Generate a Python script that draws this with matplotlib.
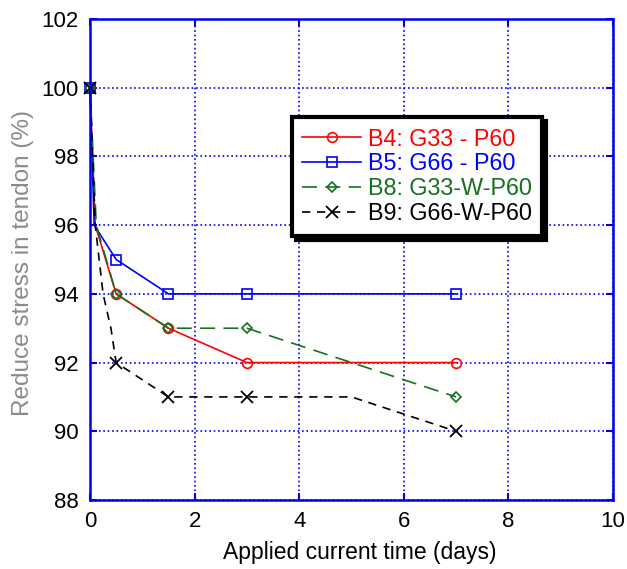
import matplotlib
matplotlib.use("Agg")
import matplotlib.pyplot as plt

plt.rcParams["font.family"] = ["Liberation Sans", "DejaVu Sans"]

# ── DATA ──────────────────────────────────────────────────────────────────────
b4_t = [0, 0.1, 0.5, 1.5, 3, 7]
b4_s = [100, 96, 94, 93, 92, 92]
b4_mark = [0, 2, 3, 4, 5]

b5_t = [0, 0.08, 0.5, 1.5, 3, 7]
b5_s = [100, 96, 95, 94, 94, 94]
b5_mark = [0, 2, 3, 4, 5]

b8_t = [0, 0.12, 0.5, 1.5, 3, 7]
b8_s = [100, 96, 94, 93, 93, 91]
b8_mark = [0, 2, 3, 4, 5]

b9_t = [0, 0.1, 0.25, 0.4, 0.5, 1.5, 3, 5, 7]
b9_s = [100, 96, 94, 93, 92, 91, 91, 91, 90]
b9_mark = [0, 4, 5, 6, 8]

labels = ["B4: G33 - P60", "B5: G66 - P60", "B8: G33-W-P60", "B9: G66-W-P60"]
x_ticks = [0, 2, 4, 6, 8, 10]
y_ticks = [88, 90, 92, 94, 96, 98, 100, 102]

GREEN = "#17701f"
BLUE = "#0000ee"

fig = plt.figure(figsize=(6.27, 5.69), dpi=100)
ax = fig.add_axes([90 / 627, 1 - 500 / 569, 523 / 627, 481 / 569])

ax.plot(b4_t, b4_s, "-", color="red", lw=1.2, marker="o", ms=7, mfc="none",
        mew=1.2, markevery=b4_mark, label=labels[0], clip_on=False)
ax.plot(b5_t, b5_s, "-", color="blue", lw=1.2, marker="s", ms=7, mfc="none",
        mew=1.2, markevery=b5_mark, label=labels[1], clip_on=False)
ax.plot(b8_t, b8_s, color=GREEN, lw=1.2, ls=(0, (9, 5)), marker="D", ms=5,
        mfc="none", mew=1.2, markevery=b8_mark, label=labels[2], clip_on=False)
ax.plot(b9_t, b9_s, color="black", lw=1.2, ls=(0, (5, 4)), marker="x", ms=8,
        mew=1.3, markevery=b9_mark, label=labels[3], clip_on=False)

ax.set_xlim(0, 10)
ax.set_ylim(88, 102)
ax.set_xticks(x_ticks)
ax.set_yticks(y_ticks)
ax.grid(True, color=BLUE, ls=":", lw=1.2)
ax.tick_params(direction="in", length=5, color=BLUE, width=1.5,
               top=True, right=True, labelsize=16, pad=8)
for sp in ax.spines.values():
    sp.set_color(BLUE)
    sp.set_linewidth(1.8)

ax.set_xlabel("Applied current time (days)", fontsize=16.5)
ax.xaxis.set_label_coords(0.516, -0.085)
ax.set_ylabel("Reduce stress in tendon (%)", fontsize=17.5, color="#8a8a8a")
ax.yaxis.set_label_coords(-0.107, 0.493)

leg = ax.legend(loc="upper left", bbox_to_anchor=(0.386, 0.796),
                borderaxespad=0, fontsize=16.8, fancybox=False,
                edgecolor="black", framealpha=1, handlelength=2.5,
                handletextpad=0.3, labelspacing=0.08, borderpad=0.45,
                shadow={"color": "black", "alpha": 1, "ox": 3, "oy": -3})
leg.get_frame().set_linewidth(3)
for text, line in zip(leg.get_texts(), leg.get_lines()):
    text.set_color(line.get_color())

fig.savefig("out.png", dpi=100)
